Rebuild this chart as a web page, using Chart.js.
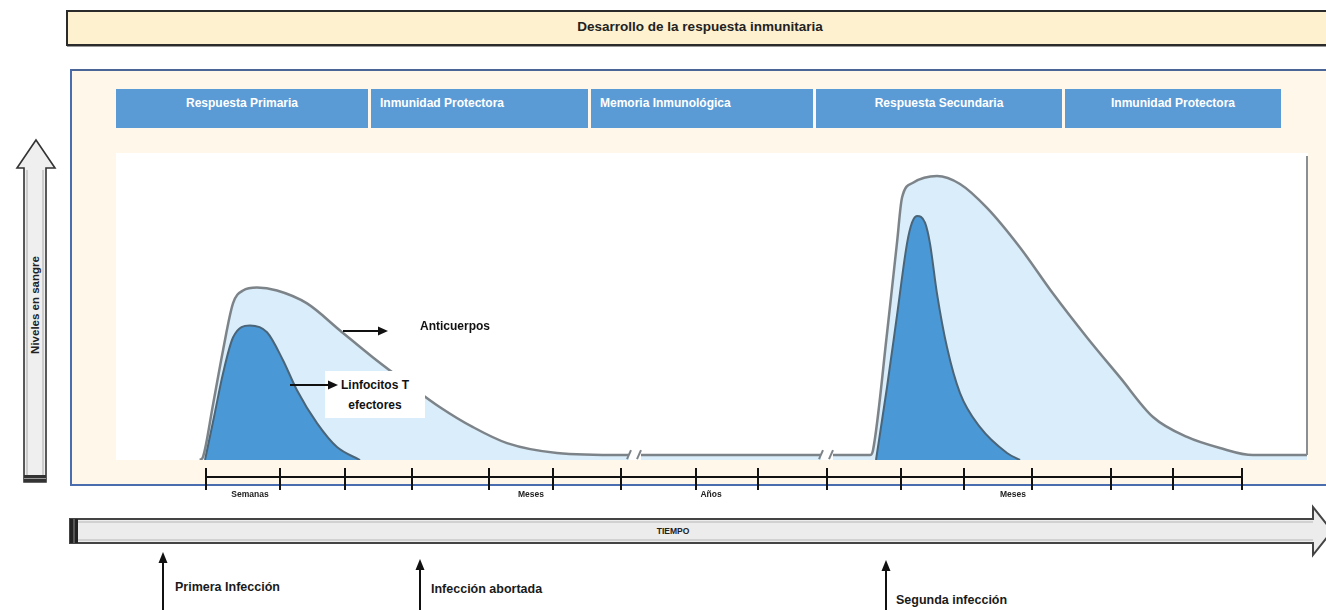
<!DOCTYPE html>
<html lang="es">
<head>
<meta charset="utf-8">
<title>Desarrollo de la respuesta inmunitaria</title>
<script src="https://cdn.jsdelivr.net/npm/chart.js@4.4.1/dist/chart.umd.min.js"></script>
<style>
  html, body { margin: 0; padding: 0; background: #fff; }
  body { width: 1326px; height: 610px; position: relative; overflow: hidden;
         font-family: "Liberation Sans", Arial, sans-serif; font-weight: bold; color: #1a1a1a; }
  .abs { position: absolute; white-space: nowrap; }
  #header { left: 66px; top: 10px; width: 1290px; height: 32px; background: #fdf1cf;
            border: 2px solid #2b2b2b; box-shadow: 1px 1px 0 #999; }
  #title { left: 700px; top: 19px; transform: translateX(-50%); font-size: 13.5px; color: #222; }
  #frame { left: 70px; top: 69px; width: 1290px; height: 413px; background: #fff8ea;
           border: 2px solid #4a6db0; border-top-color: #4b6596; }
  .phase { top: 89px; height: 39px; background: #5b9bd5; color: #fff; font-size: 12px;
           line-height: 14px; padding-top: 7px; box-sizing: border-box; }
  #canvasWrap { left: 70px; top: 140px; width: 1256px; height: 370px; }
  .note { font-size: 12px; color: #111; }
  .event { font-size: 12.5px; color: #1a1a1a; }
  #ylabel { left: 35px; top: 305px; transform: translate(-50%, -50%) rotate(-90deg); font-size: 11.5px; color: #222; }
  #tiempo { left: 673px; top: 526px; transform: translateX(-50%); font-size: 8.5px; color: #222; }
  #linfoBox { left: 325px; top: 371px; width: 100px; height: 47px; background: #fff; text-align: center;
              line-height: 20px; padding-top: 4px; box-sizing: border-box; }
</style>
</head>
<body>
<div id="header" class="abs"></div>
<div id="title" class="abs">Desarrollo de la respuesta inmunitaria</div>
<div id="frame" class="abs"></div>
<div id="phases"></div>

<svg class="abs" style="left:0;top:0" width="1326" height="610">
  <!-- eje vertical: niveles en sangre -->
  <polygon points="36,140 55,168 46,168 46,482 24,482 24,168 17,168" fill="#efefef" stroke="#333" stroke-width="1.6"/>
  <polyline points="27,170 27,476 43,476 43,170" fill="none" stroke="#999" stroke-width="0.8"/>
  <rect x="24" y="475" width="22" height="7" fill="#333"/>
  <line x1="24" y1="478.5" x2="46" y2="478.5" stroke="#999" stroke-width="1"/>
  <!-- eje horizontal: tiempo -->
  <polygon points="70,519 1313,519 1313,507 1332,531 1313,555 1313,543 70,543" fill="#ececec" stroke="#444" stroke-width="2"/>
  <line x1="76" y1="522" x2="1313" y2="522" stroke="#aaa" stroke-width="0.8"/>
  <line x1="76" y1="540" x2="1313" y2="540" stroke="#aaa" stroke-width="0.8"/>
  <rect x="70" y="519" width="8" height="24" fill="#222"/>
  <line x1="74" y1="519" x2="74" y2="543" stroke="#888" stroke-width="1"/>
  <!-- flechas de eventos -->
  <g stroke="#111" stroke-width="2" fill="#111">
    <line x1="163" y1="610" x2="163" y2="560"/>
    <polygon points="163,552 158.5,563 167.5,563" stroke="none"/>
    <line x1="420" y1="612" x2="420" y2="567"/>
    <polygon points="420,559 415.5,570 424.5,570" stroke="none"/>
    <line x1="886" y1="612" x2="886" y2="568"/>
    <polygon points="886,560 881.5,571 890.5,571" stroke="none"/>
  </g>
</svg>

<div id="ylabel" class="abs">Niveles en sangre</div>
<div id="tiempo" class="abs">TIEMPO</div>
<div class="abs event" style="left:175px;top:580px">Primera Infección</div>
<div class="abs event" style="left:431px;top:582px">Infección abortada</div>
<div class="abs event" style="left:896px;top:593px">Segunda infección</div>

<div id="canvasWrap" class="abs"><canvas id="chart" width="1256" height="370"></canvas></div>

<svg class="abs" style="left:0;top:0;pointer-events:none" width="1326" height="610">
  <g stroke="#111" stroke-width="2" fill="#111">
    <line x1="343" y1="331" x2="380" y2="331"/>
    <polygon points="388,331 378,326.5 378,335.5" stroke="none"/>
  </g>
</svg>
<div id="linfoBox" class="abs note">Linfocitos T<br>efectores</div>
<svg class="abs" style="left:0;top:0;pointer-events:none" width="1326" height="610">
  <g stroke="#111" stroke-width="2" fill="#111">
    <line x1="290" y1="385" x2="330" y2="385"/>
    <polygon points="338,385 328,380.5 328,389.5" stroke="none"/>
  </g>
</svg>
<div class="abs note" style="left:420px;top:319px">Anticuerpos</div>

<script>
// fases (encabezados azules)
const phaseNames = ['Respuesta Primaria', 'Inmunidad Protectora', 'Memoria Inmunológica', 'Respuesta Secundaria', 'Inmunidad Protectora'];
const phaseStart = [116, 371, 591, 816, 1065];
const phaseEnd = [368, 588, 813, 1062, 1281];
const phaseAlign = ['center', 'left', 'left', 'center', 'center'];

// eje de tiempo (unidades de la escala x: 0..1192)
const xMax = 1192;
const timelineTicks = [90, 164, 229, 296, 373, 437, 505, 580, 642, 711, 785, 848, 916, 995, 1057, 1126];
const timelineLabels = ['Semanas', 'Meses', 'Años', 'Meses'];
const timelineLabelPos = [134, 415, 595, 897];
const breakAt = [519, 711];
const baseLevel = 1.6;

// niveles en sangre (0..100)
const anticuerpos = [
  [84, 0], [87, 1], [97, 18], [107, 35.7], [117, 51], [127, 55.2], [141, 56.2], [161, 55.2],
  [191, 51], [224, 42.2], [257, 33.4], [291, 25], [324, 17.2], [357, 10.7], [391, 5.5],
  [441, 2.3], [507, 1.6], [513, 1.6], [519, null], [525, 1.6], [705, 1.6], [711, null],
  [717, 1.6], [754, 1.6], [757, 3.2], [771, 41.2], [781, 70.8], [786, 85.4], [797, 90.3],
  [821, 92.5], [844, 89.9], [871, 82.1], [904, 69.2], [937, 54.2], [971, 39.9], [1004, 26.9],
  [1037, 14], [1071, 7.5], [1104, 3.9], [1137, 1.6], [1191, 1.6]
];
const linfocitosPrimaria = [
  [89, 0], [98, 14], [107, 28.2], [117, 39.9], [134, 43.8], [151, 41.6], [167, 32.5],
  [181, 22.7], [201, 12], [221, 4.2], [244, 0]
];
const linfocitosSecundaria = [
  [760, 0], [771, 23.7], [781, 47.1], [791, 70.5], [796, 77.3], [801, 79.5], [809, 77.3],
  [814, 70.5], [821, 54.2], [831, 36.7], [844, 21.8], [864, 10.7], [891, 2.3], [904, 0]
];

const toPoints = arr => arr.map(p => ({ x: p[0], y: p[1] }));

const phasesEl = document.getElementById('phases');
phaseNames.forEach((name, i) => {
  const d = document.createElement('div');
  d.className = 'abs phase';
  d.style.left = phaseStart[i] + 'px';
  d.style.width = (phaseEnd[i] - phaseStart[i]) + 'px';
  d.style.textAlign = phaseAlign[i];
  if (phaseAlign[i] === 'left') d.style.paddingLeft = '9px';
  d.textContent = name;
  phasesEl.appendChild(d);
});

const diagram = {
  id: 'diagram',
  beforeDatasetsDraw(chart) {
    const { ctx, chartArea: a } = chart;
    ctx.save();
    ctx.fillStyle = '#ffffff';
    ctx.fillRect(a.left, a.top, a.right - a.left, a.bottom - a.top);
    ctx.restore();
  },
  afterDatasetsDraw(chart) {
    const { ctx, chartArea: a, scales: { x, y } } = chart;
    ctx.save();
    // borde derecho gris
    ctx.strokeStyle = '#8a8f93';
    ctx.lineWidth = 2;
    ctx.beginPath();
    ctx.moveTo(a.right - 1, a.top + 3);
    ctx.lineTo(a.right - 1, y.getPixelForValue(baseLevel));
    ctx.stroke();
    // cortes //
    ctx.strokeStyle = '#7d8489';
    breakAt.forEach(b => {
      const bx = x.getPixelForValue(b), by = y.getPixelForValue(baseLevel);
      [-5, 5].forEach(dx => {
        ctx.beginPath();
        ctx.moveTo(bx + dx - 3, by + 4);
        ctx.lineTo(bx + dx + 1, by - 5);
        ctx.stroke();
      });
    });
    // linea de tiempo
    const ty = a.bottom + 17;
    ctx.strokeStyle = '#111';
    ctx.lineWidth = 2;
    ctx.beginPath();
    ctx.moveTo(x.getPixelForValue(timelineTicks[0]), ty);
    ctx.lineTo(x.getPixelForValue(timelineTicks[timelineTicks.length - 1]), ty);
    ctx.stroke();
    timelineTicks.forEach(t => {
      const px = Math.round(x.getPixelForValue(t));
      ctx.beginPath();
      ctx.moveTo(px, ty - 9);
      ctx.lineTo(px, ty + 13);
      ctx.stroke();
    });
    ctx.fillStyle = '#222';
    ctx.font = 'bold 8.5px "Liberation Sans", Arial, sans-serif';
    ctx.textAlign = 'center';
    ctx.textBaseline = 'middle';
    timelineLabels.forEach((lab, i) => {
      ctx.fillText(lab, x.getPixelForValue(timelineLabelPos[i]), a.bottom + 35);
    });
    ctx.restore();
  }
};

new Chart(document.getElementById('chart'), {
  type: 'line',
  data: {
    datasets: [
      {
        label: 'Linfocitos T efectores (primaria)',
        data: toPoints(linfocitosPrimaria),
        borderColor: '#4a6478',
        backgroundColor: '#4a98d6',
        borderWidth: 2,
        fill: 'origin',
        order: 0
      },
      {
        label: 'Linfocitos T efectores (secundaria)',
        data: toPoints(linfocitosSecundaria),
        borderColor: '#4a6478',
        backgroundColor: '#4a98d6',
        borderWidth: 2,
        fill: 'origin',
        order: 0
      },
      {
        label: 'Anticuerpos',
        data: toPoints(anticuerpos),
        borderColor: '#7d8489',
        backgroundColor: '#d9edfa',
        borderWidth: 2.5,
        fill: 'origin',
        spanGaps: false,
        order: 1
      }
    ]
  },
  options: {
    animation: false,
    responsive: false,
    layout: { padding: { left: 46, right: 18, top: 13, bottom: 50 } },
    elements: {
      point: { radius: 0, hoverRadius: 0 },
      line: { cubicInterpolationMode: 'monotone' }
    },
    plugins: { legend: { display: false }, tooltip: { enabled: false } },
    scales: {
      x: { type: 'linear', min: 0, max: xMax, display: false },
      y: { min: 0, max: 100, display: false }
    }
  },
  plugins: [diagram]
});
</script>
</body>
</html>
